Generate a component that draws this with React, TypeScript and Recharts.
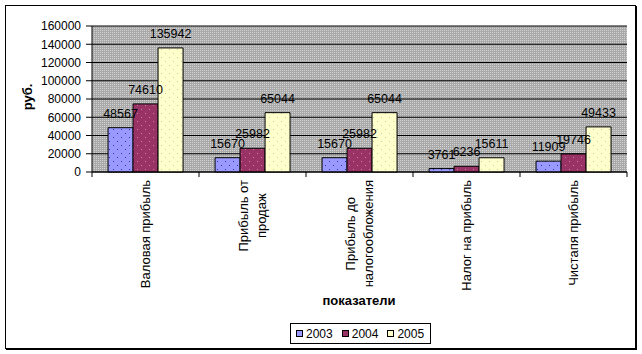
import React from 'react';
import { BarChart, Bar, XAxis, YAxis, CartesianGrid, LabelList } from 'recharts';

const categories = [
  'Валовая прибыль',
  'Прибыль от продаж',
  'Прибыль до налогообложения',
  'Налог на прибыль',
  'Чистапя прибыль',
];
// how each category label is broken into lines
const categoryLines = [
  ['Валовая прибыль'],
  ['Прибыль от', 'продаж'],
  ['Прибыль до', 'налогообложения'],
  ['Налог на прибыль'],
  ['Чистапя прибыль'],
];
const years = ['2003', '2004', '2005'];
const values2003 = [48567, 15670, 15670, 3761, 11909];
const values2004 = [74610, 25982, 25982, 6236, 19746];
const values2005 = [135942, 65044, 65044, 15611, 49433];
const yTicks = [0, 20000, 40000, 60000, 80000, 100000, 120000, 140000, 160000];

const colors = ['#9999FF', '#993366', '#FFFFCC'];
const patternIds = ['pat2003', 'pat2004', 'pat2005'];

const data = categories.map((name, i) => ({
  name,
  y2003: values2003[i],
  y2004: values2004[i],
  y2005: values2005[i],
}));

const W = 642;
const H = 354;
const margin = { top: 26, right: 15, left: 0, bottom: 0 };
const yAxisWidth = 92;
const xAxisHeight = 182;
const plotW = W - margin.left - margin.right - yAxisWidth;
const FONT = '"Liberation Sans", Arial, sans-serif';

let ctx: CanvasRenderingContext2D | null = null;
function measure(text: string, font: string) {
  if (!ctx) ctx = document.createElement('canvas').getContext('2d');
  if (!ctx) return text.length * 7;
  ctx.font = font;
  return ctx.measureText(text).width;
}

function CategoryTick(props: any) {
  const { x, y, index } = props;
  const half = plotW / categories.length / 2;
  const lines = categoryLines[index] || [];
  const fontSize = 13;
  const longest = Math.max(...lines.map((l) => measure(l, `${fontSize}px ${FONT}`)));
  const cy = y + 8 + longest / 2;
  const spacing = 18;
  return (
    <g>
      <line x1={x - half} y1={y} x2={x - half} y2={y + 5} stroke="#000" />
      {index === categories.length - 1 && (
        <line x1={x + half} y1={y} x2={x + half} y2={y + 5} stroke="#000" />
      )}
      {lines.map((l, i) => {
        const cx = x + (i - (lines.length - 1) / 2) * spacing;
        return (
          <text
            key={i}
            x={cx}
            y={cy}
            transform={`rotate(-90, ${cx}, ${cy})`}
            textAnchor="middle"
            dominantBaseline="central"
            fontSize={fontSize}
            fontFamily={FONT}
            fill="#000"
          >
            {l}
          </text>
        );
      })}
    </g>
  );
}

export default function App() {
  return (
    <div style={{ position: 'absolute', left: 0, top: 0, width: W, height: H, fontFamily: FONT }}>
      {/* chart frame */}
      <div
        style={{
          position: 'absolute',
          left: 5,
          top: 5,
          width: 629,
          height: 342,
          border: '1px solid #000',
          boxShadow: '1px 1px 0 #000',
          background: '#fff',
        }}
      />
      <div style={{ position: 'absolute', left: 0, top: 0 }}>
        <BarChart
          width={W}
          height={H}
          data={data}
          margin={margin}
          barCategoryGap="15%"
          barGap={0}
        >
          <defs>
            <pattern id="bgPat" width="2" height="2" patternUnits="userSpaceOnUse">
              <rect width="2" height="2" fill="#A9A9A9" />
              <rect width="1" height="1" fill="#D2D2D2" />
            </pattern>
            <pattern id="pat2003" width="8" height="8" patternUnits="userSpaceOnUse">
              <rect width="8" height="8" fill="#9999FF" />
              <rect x="1" y="1" width="1" height="1" fill="#3333AA" />
              <rect x="5" y="5" width="1" height="1" fill="#3333AA" />
            </pattern>
            <pattern id="pat2004" width="8" height="8" patternUnits="userSpaceOnUse">
              <rect width="8" height="8" fill="#993366" />
              <rect x="1" y="1" width="1" height="1" fill="#CC7799" />
              <rect x="5" y="5" width="1" height="1" fill="#CC7799" />
            </pattern>
            <pattern id="pat2005" width="8" height="8" patternUnits="userSpaceOnUse">
              <rect width="8" height="8" fill="#FFFFCC" />
              <rect x="1" y="1" width="1" height="1" fill="#CCCCAA" />
              <rect x="5" y="5" width="1" height="1" fill="#CCCCAA" />
            </pattern>
          </defs>
          <CartesianGrid vertical={false} stroke="#000" fill="url(#bgPat)" fillOpacity={1} />
          <XAxis
            dataKey="name"
            height={xAxisHeight}
            axisLine={{ stroke: '#000' }}
            tickLine={false}
            tickSize={0}
            tickMargin={0}
            interval={0}
            tick={<CategoryTick />}
          />
          <YAxis
            width={yAxisWidth}
            domain={[0, 160000]}
            ticks={yTicks}
            interval={0}
            axisLine={{ stroke: '#000' }}
            tickLine={{ stroke: '#000' }}
            tickSize={6}
            tickMargin={5}
            tick={{ fill: '#000', fontSize: 12, fontFamily: FONT }}
          />
          {['y2003', 'y2004', 'y2005'].map((k, i) => (
            <Bar
              key={k}
              dataKey={k}
              name={years[i]}
              fill={`url(#${patternIds[i]})`}
              stroke="#000"
              strokeWidth={1}
              isAnimationActive={false}
            >
              <LabelList
                dataKey={k}
                position="top"
                offset={10}
                fill="#000"
                fontSize={12.5}
                fontFamily={FONT}
              />
            </Bar>
          ))}
        </BarChart>
      </div>
      {/* y axis title */}
      <div
        style={{
          position: 'absolute',
          left: 27,
          top: 97,
          transform: 'translate(-50%, -50%) rotate(-90deg)',
          fontWeight: 'bold',
          fontSize: 13,
          whiteSpace: 'nowrap',
        }}
      >
        руб.
      </div>
      {/* x axis title */}
      <div
        style={{
          position: 'absolute',
          left: 359,
          top: 300,
          transform: 'translate(-50%, -50%)',
          fontWeight: 'bold',
          fontSize: 13,
          whiteSpace: 'nowrap',
        }}
      >
        показатели
      </div>
      {/* legend */}
      <div
        style={{
          position: 'absolute',
          left: 290,
          top: 323,
          width: 134,
          height: 19,
          border: '1px solid #000',
          background: '#fff',
          display: 'flex',
          alignItems: 'center',
          paddingLeft: 5,
          boxSizing: 'content-box',
          fontSize: 12,
        }}
      >
        {years.map((yr, i) => (
          <div key={yr} style={{ display: 'flex', alignItems: 'center', marginRight: 9 }}>
            <span
              style={{
                display: 'inline-block',
                width: 5,
                height: 5,
                border: '1px solid #000',
                background: colors[i],
                marginRight: 3,
              }}
            />
            <span>{yr}</span>
          </div>
        ))}
      </div>
    </div>
  );
}
